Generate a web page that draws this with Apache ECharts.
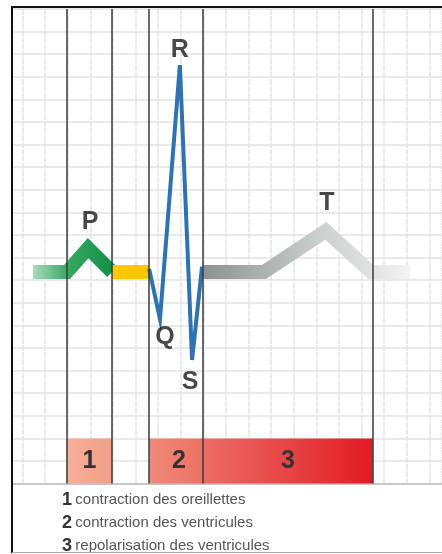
<!DOCTYPE html>
<html><head><meta charset="utf-8">
<script src="https://cdn.jsdelivr.net/npm/echarts@6/dist/echarts.min.js"></script>
<style>html,body{margin:0;padding:0;background:#fff}#c{width:442px;height:554px}</style>
</head><body><div id="c"></div>
<script>
// unit = one small square of the ECG paper
const pWave = [[1.46, 9.36], [2.96, 9.36], [3.9, 10.42], [4.96, 9.36]];
const prSegment = [[4.96, 9.36], [6.6, 9.36]];
const qrsComplex = [[6.6, 9.5], [7.08, 7.28], [7.96, 18.52], [8.5, 5.47], [8.94, 9.6]];
const tWave = [[8.98, 9.36], [11.68, 9.36], [14.42, 11.18], [16.42, 9.36], [18.16, 9.36]];
const waveNames = ['P', 'Q', 'R', 'S', 'T'];
const phaseBounds = [2.96, 4.96, 6.6, 8.98, 16.5];
const phaseStart = [2.96, 6.6, 8.98];
const phaseEnd = [4.96, 8.98, 16.5];
const phaseTop = [2, 2, 2];
const phaseNumbers = ['1', '2', '3'];
const phaseNames = ['contraction des oreillettes', 'contraction des ventricules', 'repolarisation des ventricules'];

const G = echarts.graphic;
const wavePoints = [pWave[2], qrsComplex[1], qrsComplex[2], qrsComplex[3], tWave[2]];
const waveOffsets = [[2, -26], [5, 18], [0, -15], [-2, 22], [1, -28]];
const phaseFills = [
  new G.LinearGradient(0, 0, 1, 0, [{offset: 0, color: '#f6ae97'}, {offset: 1, color: '#f29f88'}]),
  new G.LinearGradient(0, 0, 1, 0, [{offset: 0, color: '#f08a79'}, {offset: 1, color: '#ec7164'}]),
  new G.LinearGradient(0, 0, 1, 0, [{offset: 0, color: '#ec6d65'}, {offset: 1, color: '#e21b23'}])
];
const LBL = '"Liberation Sans", Arial, sans-serif';

const chart = echarts.init(document.getElementById('c'), null, {renderer: 'canvas'});
const thick = 14;
chart.setOption({
  backgroundColor: '#ffffff',
  animation: false,
  grid: {left: 0, right: 0, top: 9, bottom: 70.4},
  xAxis: {type: 'value', min: 0, max: 19.56, interval: 1,
    axisLine: {show: true, onZero: false, lineStyle: {color: '#bdbdbd', width: 1.5}},
    axisTick: {show: false}, axisLabel: {show: false},
    splitLine: {show: true, lineStyle: {color: '#e3e3e3', width: 1.5, type: [6, 1]}}},
  yAxis: {type: 'value', min: 0, max: 21, interval: 1,
    axisLine: {show: false}, axisTick: {show: false}, axisLabel: {show: false},
    splitLine: {show: true, lineStyle: {color: '#e3e3e3', width: 1.5}}},
  series: [
    {type: 'custom', z: 1, silent: true,
      data: phaseStart.map((s, i) => [s, phaseEnd[i], phaseTop[i]]),
      renderItem: function (params, api) {
        const i = params.dataIndex;
        const a = api.coord([api.value(0), api.value(2)]);
        const b = api.coord([api.value(1), 0]);
        return {type: 'group', children: [
          {type: 'rect', shape: {x: a[0], y: a[1], width: b[0] - a[0], height: b[1] - a[1]}, style: {fill: phaseFills[i]}},
          {type: 'text', style: {text: phaseNumbers[i], x: (a[0] + b[0]) / 2 + (i === 1 ? 3 : 0), y: (a[1] + b[1]) / 2,
            align: 'center', verticalAlign: 'middle', fill: '#333333', font: 'bold 25px ' + LBL}}
        ]};
      }},
    {type: 'scatter', z: 2, silent: true, data: [],
      markLine: {symbol: 'none', silent: true, label: {show: false},
        lineStyle: {color: '#3a3a3a', width: 1.5, type: 'solid'},
        data: phaseBounds.map(x => ({xAxis: x}))}},
    {type: 'line', z: 3, data: pWave, showSymbol: false, silent: true,
      lineStyle: {width: thick, join: 'miter', cap: 'butt',
        color: new G.LinearGradient(0, 0, 1, 0, [{offset: 0, color: '#c2e5cd'}, {offset: 0.45, color: '#37a763'}, {offset: 1, color: '#0e8c44'}])}},
    {type: 'line', z: 3, data: prSegment, showSymbol: false, silent: true,
      lineStyle: {width: thick, cap: 'butt', color: '#ffc700'}},
    {type: 'line', z: 3, data: qrsComplex, showSymbol: false, silent: true,
      lineStyle: {width: 4, join: 'miter', cap: 'butt', color: '#2f72b0'}},
    {type: 'line', z: 3, data: tWave, showSymbol: false, silent: true,
      lineStyle: {width: thick, join: 'miter', cap: 'butt',
        color: new G.LinearGradient(0, 0, 1, 0, [{offset: 0, color: '#878e8e'}, {offset: 0.55, color: '#c9cfcc'}, {offset: 0.8, color: '#e0e3e2'}, {offset: 1, color: '#f8f8f8'}])}},
    {type: 'scatter', z: 4, silent: true, symbolSize: 0,
      data: wavePoints.map((p, i) => ({value: p, name: waveNames[i],
        label: {show: true, position: 'inside', offset: waveOffsets[i], formatter: waveNames[i],
          color: '#1a1a1a', fontWeight: 'bold', fontSize: 25, fontFamily: LBL}}))}
  ],
  graphic: [
    {type: 'rect', z: 100, shape: {x: 0, y: 0, width: 11, height: 554}, style: {fill: '#ffffff'}},
    {type: 'rect', z: 100, shape: {x: 0, y: 553, width: 442, height: 1}, style: {fill: '#ffffff'}},
    ...phaseNames.map((t, i) => ({type: 'text', z: 99, x: 62, y: 500 + 23 * i,
      style: {text: '{n|' + phaseNumbers[i] + '} {t|' + t + '}', verticalAlign: 'middle',
        rich: {n: {fontFamily: LBL, fontWeight: 'bold', fontSize: 18, fill: '#333333', color: '#333333'},
               t: {fontFamily: LBL, fontSize: 15, fill: '#555555', color: '#555555'}}}})),
    {type: 'line', z: 101, shape: {x1: 12, y1: 6, x2: 12, y2: 553}, style: {stroke: '#111111', lineWidth: 2}},
    {type: 'line', z: 101, shape: {x1: 11, y1: 7, x2: 442, y2: 7}, style: {stroke: '#111111', lineWidth: 2}},
    {type: 'line', z: 101, shape: {x1: 12, y1: 552.5, x2: 442, y2: 552.5}, style: {stroke: '#a8a8a8', lineWidth: 1}}
  ]
});
</script></body></html>
